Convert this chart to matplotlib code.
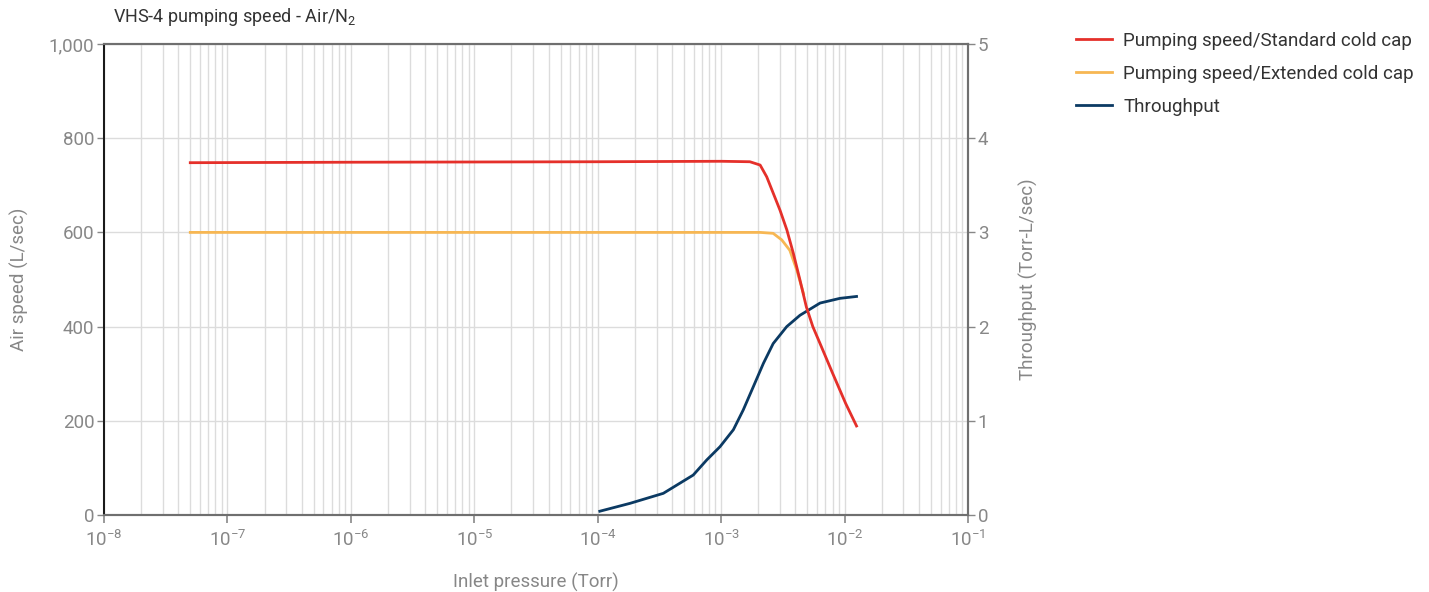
import math
import matplotlib
matplotlib.use("Agg")
import matplotlib.pyplot as plt
from matplotlib.ticker import LogLocator, FixedLocator, FuncFormatter, NullFormatter
from matplotlib.lines import Line2D

plt.rcParams['font.family'] = ['Roboto', 'DejaVu Sans']
plt.rcParams['mathtext.fontset'] = 'custom'
plt.rcParams['mathtext.rm'] = 'Roboto'
plt.rcParams['mathtext.it'] = 'Roboto'
plt.rcParams['mathtext.default'] = 'regular'

# ---- data ----
std_p = [5e-8, 1e-6, 1e-4, 1e-3, 1.71e-3, 2.07e-3, 2.34e-3, 3.0e-3, 3.41e-3, 3.85e-3,
         4.35e-3, 4.9e-3, 5.53e-3, 6.33e-3, 8.0e-3, 1.02e-2, 1.25e-2]
std_s = [748, 749, 750, 751, 750, 743, 718, 647, 605, 555, 499, 442, 400, 364, 301, 237, 189]

ext_p = [5e-8, 1e-5, 1e-3, 2.07e-3, 2.64e-3, 3.1e-3, 3.6e-3, 4.1e-3, 4.65e-3]
ext_s = [600, 600, 600, 600, 598, 584, 562, 520, 470]

thr_p = [1.04e-4, 1.83e-4, 3.40e-4, 5.94e-4, 7.64e-4, 9.79e-4, 1.256e-3, 1.51e-3, 1.82e-3,
         2.20e-3, 2.64e-3, 3.40e-3, 4.35e-3, 6.33e-3, 9.18e-3, 1.25e-2]
thr_q = [0.04, 0.124, 0.23, 0.424, 0.584, 0.725, 0.905, 1.115, 1.36,
         1.61, 1.82, 2.00, 2.12, 2.25, 2.30, 2.32]

labels = ["Pumping speed/Standard cold cap", "Pumping speed/Extended cold cap", "Throughput"]
colors = ["#e5302a", "#f7b753", "#0b3a63"]

x_ticks = [1e-8, 1e-7, 1e-6, 1e-5, 1e-4, 1e-3, 1e-2, 1e-1]
left_ticks = [0, 200, 400, 600, 800, 1000]
right_ticks = [0, 1, 2, 3, 4, 5]

W, H = 1429, 592
fig = plt.figure(figsize=(W / 100, H / 100), dpi=100)
ax2 = fig.add_axes([104 / W, 1 - 515 / H, (968 - 104) / W, (515 - 44) / H])
ax = ax2.twinx()  # speed axis drawn on top, throughput axis below
ax.yaxis.tick_left()
ax.yaxis.set_label_position('left')
ax2.yaxis.tick_right()
ax2.yaxis.set_label_position('right')

grey = "#878787"
gridc = "#dcdcdc"

ax2.set_xscale('log')
ax2.set_xlim(x_ticks[0], x_ticks[-1])
ax.set_ylim(left_ticks[0], left_ticks[-1])
ax2.set_ylim(right_ticks[0], right_ticks[-1])

ax2.xaxis.set_major_locator(FixedLocator(x_ticks))
ax2.xaxis.set_minor_locator(LogLocator(base=10, subs=range(2, 10), numticks=100))
ax2.xaxis.set_minor_formatter(NullFormatter())
ax2.xaxis.set_major_formatter(FuncFormatter(lambda v, pos: r"$10^{%d}$" % round(math.log10(v))))
ax.yaxis.set_major_locator(FixedLocator(left_ticks))
ax.yaxis.set_major_formatter(FuncFormatter(lambda v, pos: f"{int(v):,}"))
ax2.yaxis.set_major_locator(FixedLocator(right_ticks))

ax2.grid(True, which='major', axis='both', color=gridc, linewidth=1.0)
ax2.grid(True, which='minor', axis='x', color=gridc, linewidth=1.0)
ax2.set_axisbelow(True)

ax2.tick_params(axis='x', which='major', length=6, width=1.2, color=grey, labelcolor=grey,
                labelsize=13.5, pad=5)
ax2.tick_params(axis='x', which='minor', length=0)
ax.tick_params(axis='y', length=5, width=1.0, color=grey, labelcolor=grey, labelsize=13.5, pad=2,
               left=True, right=False, labelleft=True, labelright=False)
ax2.tick_params(axis='y', length=5, width=1.0, color=grey, labelcolor=grey, labelsize=13.5, pad=2,
                left=False, right=True, labelleft=False, labelright=True)
ax.tick_params(axis='x', which='both', bottom=False, labelbottom=False, top=False)

for a in (ax, ax2):
    for s in a.spines.values():
        s.set_color("#6f6f6f")
        s.set_linewidth(1.5)
ax.spines['left'].set_color("#111111")
ax.spines['left'].set_linewidth(1.3)

ax2.plot(thr_p, thr_q, color=colors[2], lw=2.0, zorder=3)
ax.plot(ext_p, ext_s, color=colors[1], lw=2.0, zorder=3)
ax.plot(std_p, std_s, color=colors[0], lw=2.0, zorder=4)
ax.patch.set_visible(False)

ax2.set_xlabel("Inlet pressure (Torr)", color=grey, fontsize=13.5, labelpad=16)
ax.set_ylabel("Air speed (L/sec)", color=grey, fontsize=13.5, labelpad=14)
ax2.set_ylabel("Throughput (Torr-L/sec)", color=grey, fontsize=13.5, labelpad=22)

fig.text(113 / W, 1 - 17 / H, "VHS-4 pumping speed - Air/N$_2$", fontsize=13,
         color="#333333", ha='left', va='center')

handles = [Line2D([], [], color=c, lw=2.0) for c in colors]
fig.legend(handles, labels, loc='upper left', bbox_to_anchor=(1076 / W, 1 - 32 / H),
           frameon=False, fontsize=13.5, labelcolor="#333333", handlelength=1.92,
           handletextpad=0.59, labelspacing=0.79, borderaxespad=0, borderpad=0)

fig.savefig("out.png", dpi=100)
